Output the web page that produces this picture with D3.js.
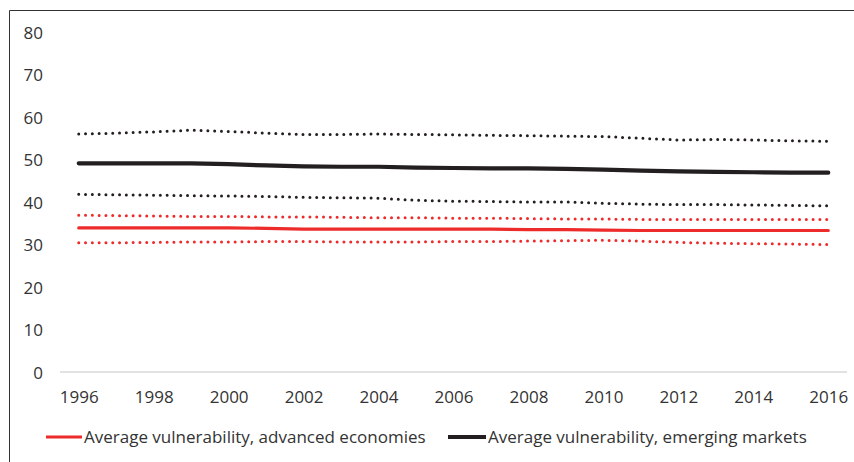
<!DOCTYPE html>
<html>
<head>
<meta charset="utf-8">
<script src="https://cdn.jsdelivr.net/npm/d3@7/dist/d3.min.js"></script>
<style>
  body { margin: 0; background: #fff; }
  text { font-family: "Open Sans", "Noto Sans", sans-serif; fill: #333; }
</style>
</head>
<body>
<script>
// years on the category axis
var years = d3.range(1996, 2017);
var yTicks = [0, 10, 20, 30, 40, 50, 60, 70, 80];
var xTickYears = [1996, 1998, 2000, 2002, 2004, 2006, 2008, 2010, 2012, 2014, 2016];

// emerging markets: upper band, average, lower band
var emHigh = [56.0, 56.2, 56.5, 56.9, 56.6, 56.2, 55.9, 55.9, 56.0, 55.9, 55.8, 55.7, 55.6, 55.5, 55.4, 55.0, 54.6, 54.7, 54.6, 54.4, 54.3];
var emAvg  = [49.1, 49.1, 49.1, 49.1, 48.9, 48.6, 48.4, 48.3, 48.3, 48.1, 48.0, 47.9, 47.9, 47.8, 47.6, 47.4, 47.2, 47.1, 47.0, 46.9, 46.9];
var emLow  = [41.8, 41.7, 41.6, 41.5, 41.4, 41.3, 41.1, 41.0, 40.9, 40.4, 40.2, 40.1, 40.0, 40.0, 39.7, 39.5, 39.4, 39.4, 39.3, 39.2, 39.1];

// advanced economies
var advHigh = [36.9, 36.8, 36.7, 36.6, 36.6, 36.5, 36.5, 36.4, 36.3, 36.3, 36.2, 36.2, 36.1, 36.0, 36.0, 35.9, 35.9, 35.9, 35.9, 35.9, 35.9];
var advAvg  = [33.9, 33.9, 33.9, 33.9, 33.9, 33.8, 33.6, 33.6, 33.6, 33.6, 33.6, 33.6, 33.5, 33.5, 33.4, 33.3, 33.3, 33.3, 33.3, 33.3, 33.3];
var advLow  = [30.4, 30.4, 30.5, 30.6, 30.6, 30.7, 30.7, 30.6, 30.6, 30.6, 30.7, 30.7, 30.8, 30.9, 31.0, 30.8, 30.5, 30.3, 30.2, 30.1, 30.0];

var legendNames = ["Average vulnerability, advanced economies", "Average vulnerability, emerging markets"];

var red = "#ee2b2b", black = "#231f20";

var svg = d3.select("body").append("svg")
  .attr("width", 854)
  .attr("height", 462);

// outer frame (top + left edges visible)
svg.append("line").attr("x1", 9.5).attr("x2", 854).attr("y1", 10.5).attr("y2", 10.5)
  .attr("stroke", "#333").attr("stroke-width", 1);
svg.append("line").attr("x1", 9.5).attr("x2", 9.5).attr("y1", 10.5).attr("y2", 462)
  .attr("stroke", "#333").attr("stroke-width", 1);

var x = d3.scalePoint().domain(years).range([60, 847]).padding(0.5);
var y = d3.scaleLinear().domain([0, 80]).range([372, 32]);

// x axis baseline
svg.append("line")
  .attr("x1", 60).attr("x2", 847)
  .attr("y1", y(0)).attr("y2", y(0))
  .attr("stroke", "#d9d9d9").attr("stroke-width", 1.5);

var yAxis = svg.append("g").attr("transform", "translate(43,0)")
  .call(d3.axisLeft(y).tickValues(yTicks).tickSize(0).tickPadding(0));
yAxis.select(".domain").remove();
yAxis.selectAll("text").style("font-size", "17px").attr("dy", "0.36em");

var xAxis = svg.append("g").attr("transform", "translate(0," + y(0) + ")")
  .call(d3.axisBottom(x).tickValues(xTickYears).tickSize(0).tickPadding(0));
xAxis.select(".domain").remove();
xAxis.selectAll("text").style("font-size", "17px").attr("y", 25).attr("dy", "0.36em");

var line = d3.line()
  .x(function(d, i) { return x(years[i]); })
  .y(function(d) { return y(d); });

var series = [
  { v: emHigh, c: black, w: 3, dots: true },
  { v: emLow, c: black, w: 3, dots: true },
  { v: advHigh, c: red, w: 3, dots: true },
  { v: advLow, c: red, w: 3, dots: true },
  { v: emAvg, c: black, w: 4.2, dots: false },
  { v: advAvg, c: red, w: 3.2, dots: false }
];

series.forEach(function(s) {
  svg.append("path")
    .datum(s.v)
    .attr("d", line)
    .attr("fill", "none")
    .attr("stroke", s.c)
    .attr("stroke-width", s.w)
    .attr("stroke-linecap", "round")
    .attr("stroke-dasharray", s.dots ? "0 6.8" : null);
});

// legend
var leg = [
  { name: legendNames[0], c: red, w: 3.2, x0: 46, x1: 82 },
  { name: legendNames[1], c: black, w: 4.2, x0: 448, x1: 486 }
];
leg.forEach(function(l) {
  svg.append("line")
    .attr("x1", l.x0).attr("x2", l.x1)
    .attr("y1", 437).attr("y2", 437)
    .attr("stroke", l.c).attr("stroke-width", l.w);
  svg.append("text")
    .attr("x", l.x1 + 2).attr("y", 437).attr("dy", "0.36em")
    .style("font-size", "17px")
    .text(l.name);
});
</script>
</body>
</html>
